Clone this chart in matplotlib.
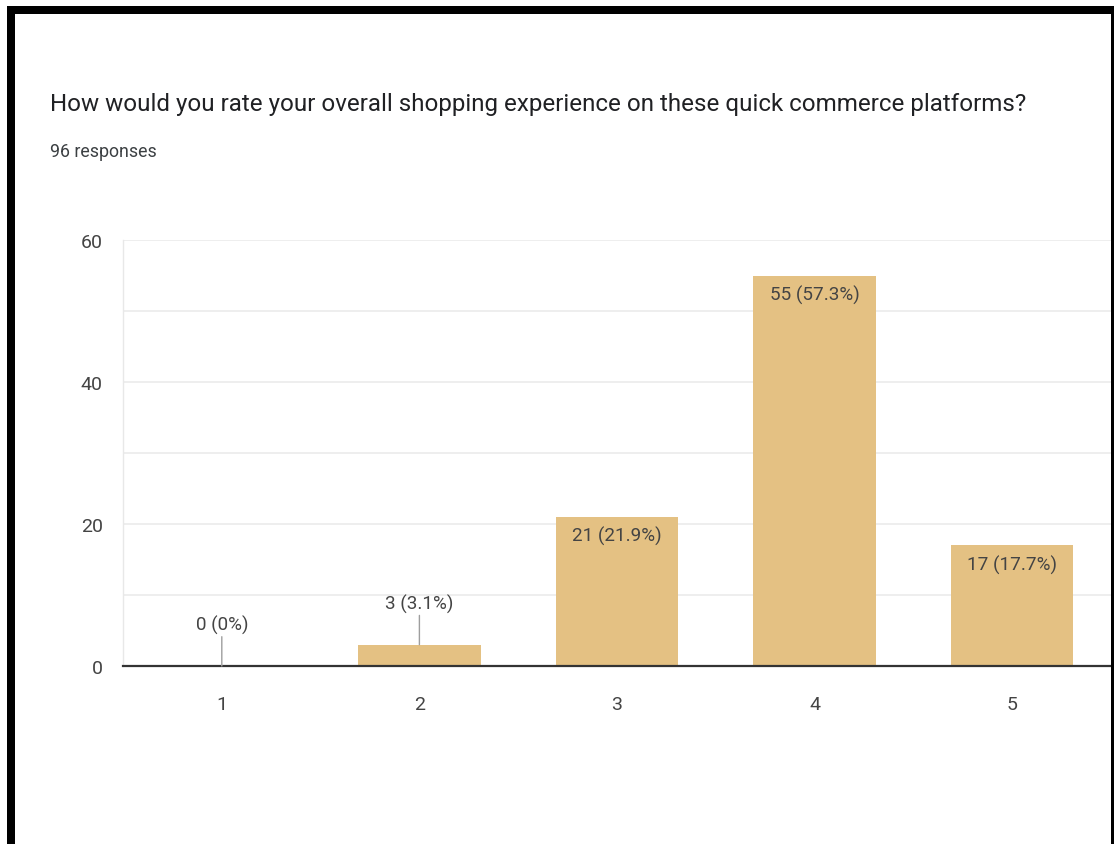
import matplotlib
matplotlib.use("Agg")
import matplotlib.pyplot as plt
from matplotlib.patches import Rectangle

plt.rcParams['font.family'] = ['Roboto', 'DejaVu Sans']

# survey data
ratings = ['1', '2', '3', '4', '5']
counts = [0, 3, 21, 55, 17]
n_responses = 96
title = "How would you rate your overall shopping experience on these quick commerce platforms?"

bar_color = '#e4c183'
text_color = '#444444'

W, H = 1114, 845
fig = plt.figure(figsize=(W / 100, H / 100), dpi=100)
fig.patch.set_facecolor('white')

ax = fig.add_axes([123 / W, 1 - 667 / H, (1111 - 123) / W, (667 - 241) / H])
x = list(range(1, len(ratings) + 1))
ax.bar(x, counts, width=0.62, color=bar_color, zorder=2)

ax.set_xlim(0.5, 5.5)
ax.set_ylim(0, 60)
ax.set_xticks(x)
ax.set_xticklabels(ratings)
ax.set_yticks([0, 20, 40, 60])
ax.set_yticks([10, 30, 50], minor=True)
ax.grid(axis='y', which='both', color='#ebebeb', lw=1.2, zorder=0)
ax.tick_params(axis='both', which='both', length=0, labelsize=14, colors=text_color)
ax.tick_params(axis='x', pad=21)
ax.tick_params(axis='y', pad=14.5)
for s in ['top', 'right']:
    ax.spines[s].set_visible(False)
ax.spines['left'].set_color('#e8e8e8')
ax.spines['left'].set_linewidth(1)
ax.spines['bottom'].set_color('#333333')
ax.spines['bottom'].set_linewidth(1.6)
ax.spines['bottom'].set_zorder(3)

# value labels: inside the bar when tall enough, else above with a leader line
for xi, c in zip(x, counts):
    pct = 100 * c / n_responses
    p = f"{pct:.1f}".rstrip('0').rstrip('.')
    label = f"{c} ({p}%)"
    if c > 10:
        ax.annotate(label, xy=(xi, c), xytext=(0, -6.5), textcoords='offset points',
                    ha='center', va='top', fontsize=13.6, color=text_color, zorder=4)
    else:
        ax.annotate(label, xy=(xi, c), xytext=(0, 30), textcoords='offset points',
                    ha='center', va='center', fontsize=13.6, color=text_color, zorder=4,
                    arrowprops=dict(arrowstyle='-', color='#9e9e9e', lw=1,
                                    shrinkA=0, shrinkB=0))

fig.text(50 / W, 1 - 111 / H, title, fontsize=17.4, color='#202124', va='baseline', ha='left')
fig.text(50 / W, 1 - 157 / H, f"{n_responses} responses", fontsize=12.8, color='#3c4043',
         va='baseline', ha='left')

# black frame round the page
for (x0, y0, w, h) in [(7, 7, W - 7, 8), (7, 7, 8, H - 7), (1111, 7, 3, H - 7)]:
    fig.add_artist(Rectangle((x0 / W, 1 - (y0 + h) / H), w / W, h / H,
                             transform=fig.transFigure, color='black', lw=0))

fig.savefig('out.png', dpi=100, facecolor='white')
